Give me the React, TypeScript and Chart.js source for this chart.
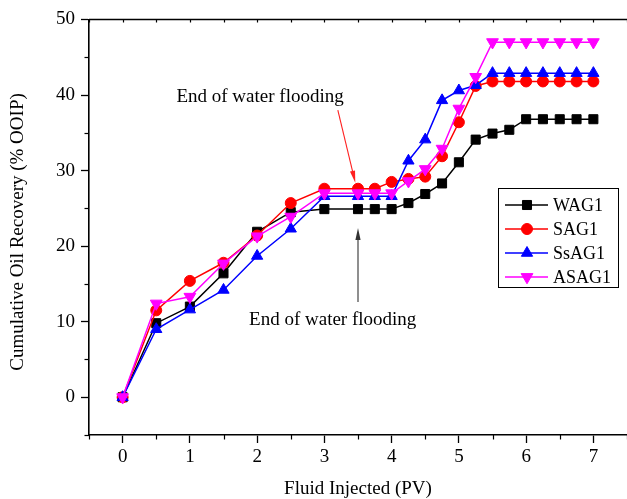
import React, { useEffect, useRef } from 'react';
import { Chart, registerables } from 'chart.js';

Chart.register(...registerables);

// ---- data ----
const xValues = [0, 0.5, 1, 1.5, 2, 2.5, 3, 3.5, 3.75, 4, 4.25, 4.5, 4.75, 5, 5.25, 5.5, 5.75, 6, 6.25, 6.5, 6.75, 7];
const wag1 = [0, 9.8, 12.0, 16.4, 21.9, 24.5, 24.9, 24.9, 24.9, 24.9, 25.7, 26.9, 28.3, 31.1, 34.1, 34.9, 35.4, 36.8, 36.8, 36.8, 36.8, 36.8];
const sag1 = [0, 11.5, 15.4, 17.8, 21.4, 25.7, 27.6, 27.6, 27.6, 28.5, 28.9, 29.2, 31.9, 36.4, 41.2, 41.8, 41.8, 41.8, 41.8, 41.8, 41.8, 41.8];
const ssag1 = [0, 9.0, 11.6, 14.2, 18.7, 22.3, 26.6, 26.6, 26.6, 26.6, 31.3, 34.1, 39.3, 40.6, 41.3, 42.9, 42.9, 42.9, 42.9, 42.9, 42.9, 42.9];
const asag1 = [0, 12.4, 13.3, 17.7, 21.3, 23.9, 27.0, 27.0, 27.0, 27.0, 28.6, 30.2, 32.9, 38.2, 42.4, 47.0, 47.0, 47.0, 47.0, 47.0, 47.0, 47.0];
const seriesNames = ['WAG1', 'SAG1', 'SsAG1', 'ASAG1'];
const xTickValues = [0, 1, 2, 3, 4, 5, 6, 7];
const yTickValues = [0, 10, 20, 30, 40, 50];
const xMinorTickValues = [-0.5, 0.5, 1.5, 2.5, 3.5, 4.5, 5.5, 6.5, 7.5];
const yMinorTickValues = [-5, 5, 15, 25, 35, 45];
const annotationText = 'End of water flooding';
const xTitle = 'Fluid Injected (PV)';
const yTitle = 'Cumulative Oil Recovery (% OOIP)';

const FONT_FAMILY = '"Liberation Serif", "Times New Roman", serif';
const FONT_SIZE = 19;

type Style = { color: string; pointStyle: string; radius: number; rotation: number };
const styles: Style[] = [
  { color: '#000000', pointStyle: 'rect', radius: 6.4, rotation: 0 },
  { color: '#ff0000', pointStyle: 'circle', radius: 5.5, rotation: 0 },
  { color: '#0000ff', pointStyle: 'triangle', radius: 6.5, rotation: 0 },
  { color: '#ff00ff', pointStyle: 'triangle', radius: 6.8, rotation: 180 },
];

function drawMarker(ctx: CanvasRenderingContext2D, s: Style, x: number, y: number) {
  ctx.save();
  ctx.fillStyle = s.color;
  ctx.strokeStyle = s.color;
  ctx.lineWidth = 1;
  ctx.beginPath();
  if (s.pointStyle === 'rect') {
    const h = s.radius * Math.SQRT1_2;
    ctx.rect(x - h, y - h, 2 * h, 2 * h);
  } else if (s.pointStyle === 'circle') {
    ctx.arc(x, y, s.radius, 0, Math.PI * 2);
  } else {
    let rad = (s.rotation * Math.PI) / 180;
    ctx.moveTo(x + Math.sin(rad) * s.radius, y - Math.cos(rad) * s.radius);
    rad += (2 * Math.PI) / 3;
    ctx.lineTo(x + Math.sin(rad) * s.radius, y - Math.cos(rad) * s.radius);
    rad += (2 * Math.PI) / 3;
    ctx.lineTo(x + Math.sin(rad) * s.radius, y - Math.cos(rad) * s.radius);
    ctx.closePath();
  }
  ctx.fill();
  ctx.stroke();
  ctx.restore();
}

function drawArrow(ctx: CanvasRenderingContext2D, x1: number, y1: number, x2: number, y2: number, color: string) {
  const ang = Math.atan2(y2 - y1, x2 - x1);
  const headLen = 12;
  const headHalf = 2.6;
  ctx.save();
  ctx.strokeStyle = color;
  ctx.fillStyle = color;
  ctx.lineWidth = 1.1;
  ctx.beginPath();
  ctx.moveTo(x1, y1);
  ctx.lineTo(x2 - Math.cos(ang) * headLen * 0.8, y2 - Math.sin(ang) * headLen * 0.8);
  ctx.stroke();
  ctx.beginPath();
  ctx.moveTo(x2, y2);
  const bx = x2 - Math.cos(ang) * headLen;
  const by = y2 - Math.sin(ang) * headLen;
  ctx.lineTo(bx + Math.sin(ang) * headHalf, by - Math.cos(ang) * headHalf);
  ctx.lineTo(bx - Math.sin(ang) * headHalf, by + Math.cos(ang) * headHalf);
  ctx.closePath();
  ctx.fill();
  ctx.restore();
}

const decorPlugin = {
  id: 'decor',
  afterDraw(chart: any) {
    const { ctx, chartArea } = chart;
    const xs = chart.scales.x;
    const ys = chart.scales.y;
    ctx.save();
    // top frame line
    ctx.strokeStyle = '#000';
    ctx.lineWidth = 1.6;
    ctx.beginPath();
    ctx.moveTo(chartArea.left, chartArea.top);
    ctx.lineTo(chartArea.right + 2, chartArea.top);
    ctx.stroke();
    // top inward ticks
    ctx.lineWidth = 1.2;
    const topVals = [...xTickValues, ...xMinorTickValues];
    topVals.forEach((v) => {
      const px = Math.round(xs.getPixelForValue(v)) + 0.5;
      ctx.beginPath();
      ctx.moveTo(px, chartArea.top);
      ctx.lineTo(px, chartArea.top + 3);
      ctx.stroke();
    });
    // minor ticks
    xMinorTickValues.forEach((v) => {
      const px = Math.round(xs.getPixelForValue(v)) + 0.5;
      ctx.beginPath();
      ctx.moveTo(px, chartArea.bottom);
      ctx.lineTo(px, chartArea.bottom + 4.5);
      ctx.stroke();
    });
    yMinorTickValues.forEach((v) => {
      const py = Math.round(ys.getPixelForValue(v)) + 0.5;
      ctx.beginPath();
      ctx.moveTo(chartArea.left, py);
      ctx.lineTo(chartArea.left - 4.5, py);
      ctx.stroke();
    });
    // y axis title
    ctx.fillStyle = '#000';
    ctx.font = `${FONT_SIZE}px ${FONT_FAMILY}`;
    ctx.save();
    ctx.translate(18, 232);
    ctx.rotate(-Math.PI / 2);
    ctx.textAlign = 'center';
    ctx.textBaseline = 'middle';
    ctx.fillText(yTitle, 0, 0);
    ctx.restore();
    // annotations
    ctx.textBaseline = 'alphabetic';
    ctx.textAlign = 'left';
    ctx.fillText(annotationText, xs.getPixelForValue(0.8), ys.getPixelForValue(39.1));
    ctx.fillText(annotationText, xs.getPixelForValue(1.88), ys.getPixelForValue(9.5));
    drawArrow(ctx, xs.getPixelForValue(3.2), ys.getPixelForValue(38.0), xs.getPixelForValue(3.46), ys.getPixelForValue(28.4), '#ff2020');
    drawArrow(ctx, xs.getPixelForValue(3.5), ys.getPixelForValue(12.6), xs.getPixelForValue(3.5), ys.getPixelForValue(22.4), '#333333');
    // legend
    const bx = 498.5, by = 188.5, bw = 120, bh = 99;
    ctx.fillStyle = '#fff';
    ctx.fillRect(bx, by, bw, bh);
    ctx.strokeStyle = '#000';
    ctx.lineWidth = 1;
    ctx.strokeRect(bx, by, bw, bh);
    ctx.font = `18px ${FONT_FAMILY}`;
    seriesNames.forEach((name, i) => {
      const cy = 205 + i * 24;
      const s = styles[i];
      ctx.strokeStyle = s.color;
      ctx.lineWidth = 1.5;
      ctx.beginPath();
      ctx.moveTo(505, cy);
      ctx.lineTo(548, cy);
      ctx.stroke();
      drawMarker(ctx, s, 527, cy);
      ctx.fillStyle = '#000';
      ctx.textBaseline = 'middle';
      ctx.fillText(name, 553, cy + 1);
    });
    ctx.restore();
  },
};

export default function App() {
  const ref = useRef<HTMLCanvasElement | null>(null);
  useEffect(() => {
    document.body.style.margin = '0';
    const canvas = ref.current;
    if (!canvas) return;
    const series = [wag1, sag1, ssag1, asag1];
    const datasets = series.map((vals, i) => ({
      label: seriesNames[i],
      data: xValues.map((x, j) => ({ x, y: vals[j] })),
      borderColor: styles[i].color,
      backgroundColor: styles[i].color,
      borderWidth: 1.5,
      pointStyle: styles[i].pointStyle,
      pointRadius: styles[i].radius,
      pointRotation: styles[i].rotation,
      pointBorderWidth: 1,
      tension: 0,
      order: 4 - i,
    }));
    const tickFont = { family: FONT_FAMILY, size: FONT_SIZE };
    const chart = new Chart(canvas, {
      type: 'line',
      data: { datasets } as any,
      plugins: [decorPlugin],
      options: {
        animation: false,
        responsive: false,
        events: [],
        layout: { autoPadding: false, padding: { top: 19.5, right: -2, bottom: 0, left: 0 } },
        plugins: { legend: { display: false }, tooltip: { enabled: false } },
        scales: {
          x: {
            type: 'linear',
            min: -0.5,
            max: 7.5,
            afterBuildTicks: (s: any) => {
              s.ticks = xTickValues.map((v) => ({ value: v }));
            },
            afterFit: (s: any) => {
              s.height = 64;
              s.paddingLeft = 0;
              s.paddingRight = 0;
            },
            ticks: { font: tickFont, color: '#000', padding: 3, maxRotation: 0 },
            grid: { drawOnChartArea: false, drawTicks: true, tickLength: 8, tickColor: '#000', tickWidth: 1.3 },
            border: { display: true, color: '#000', width: 1.6 },
            title: {
              display: true,
              text: xTitle,
              color: '#000',
              font: { family: FONT_FAMILY, size: FONT_SIZE, lineHeight: 1 },
              padding: { top: 0, bottom: 0 },
            },
          },
          y: {
            type: 'linear',
            min: -5,
            max: 50,
            afterBuildTicks: (s: any) => {
              s.ticks = yTickValues.map((v) => ({ value: v }));
            },
            afterFit: (s: any) => {
              s.width = 89;
              s.paddingTop = 0;
              s.paddingBottom = 0;
            },
            ticks: { font: tickFont, color: '#000', padding: 6 },
            grid: { drawOnChartArea: false, drawTicks: true, tickLength: 8, tickColor: '#000', tickWidth: 1.3 },
            border: { display: true, color: '#000', width: 1.6 },
            title: { display: false },
          },
        },
      } as any,
    });
    return () => chart.destroy();
  }, []);
  return (
    <div style={{ width: 627, height: 499 }}>
      <canvas ref={ref} width={627} height={499} style={{ display: 'block' }} />
    </div>
  );
}
